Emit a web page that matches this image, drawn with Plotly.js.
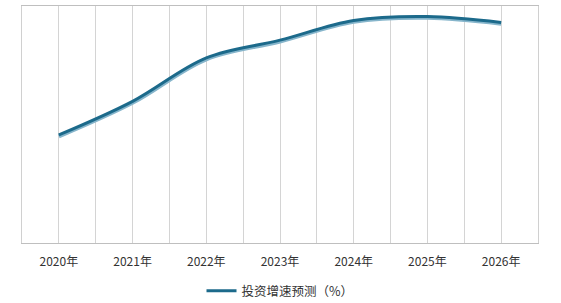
<!DOCTYPE html>
<html>
<head>
<meta charset="utf-8">
<script src="https://cdn.plot.ly/plotly-3.0.1.min.js"></script>
<style>html,body{margin:0;padding:0;background:#fff;}#chart{width:561px;height:303px;}</style>
</head>
<body>
<div id="chart"></div>
<script>
const categories = ["2020年", "2021年", "2022年", "2023年", "2024年", "2025年", "2026年"];
const growthValues = [5.4, 7.1, 9.3, 10.2, 11.2, 11.4, 11.1];
const seriesName = "投资增速预测（%）";

const idx = categories.map((c, i) => i);
const font = "'Noto Sans CJK SC', 'Noto Sans', sans-serif";

const shadow = {
  x: categories, y: growthValues,
  type: "scatter", mode: "lines",
  line: {color: "#86b5cb", width: 4, shape: "spline", smoothing: 1},
  showlegend: false, hoverinfo: "skip"
};
const main = {
  x: idx, y: growthValues, xaxis: "x2", yaxis: "y2",
  type: "scatter", mode: "lines", name: seriesName,
  line: {color: "#1c6a8b", width: 3, shape: "spline", smoothing: 1}
};

const layout = {
  width: 561, height: 303,
  margin: {l: 22, r: 23, t: 6, b: 60, autoexpand: false},
  paper_bgcolor: "#fff", plot_bgcolor: "#fff",
  font: {family: font, size: 12, color: "#333"},
  xaxis: {
    type: "category", range: [-0.5, 6.5],
    showgrid: false, showline: true, linecolor: "#bfbfbf", linewidth: 1, mirror: true,
    ticks: "", tickfont: {family: font, size: 12, color: "#333"}, ticklabelstandoff: 8,
    fixedrange: true
  },
  xaxis2: {
    overlaying: "x", type: "linear", range: [-0.5, 6.5],
    tick0: -0.5, dtick: 0.5, showgrid: true, gridcolor: "#d4d4d4", gridwidth: 1,
    showticklabels: false, ticks: "", zeroline: false, showline: false
  },
  yaxis: {
    range: [0, 12], showgrid: false, zeroline: false, showticklabels: false,
    showline: true, linecolor: "#d0d0d0", mirror: true, ticks: ""
  },
  yaxis2: {
    overlaying: "y", range: [-0.07, 11.93], showgrid: false, zeroline: false,
    showticklabels: false, showline: false, ticks: ""
  },
  showlegend: true,
  legend: {
    orientation: "h", x: 0.5, xanchor: "center", y: -0.203, yanchor: "middle",
    font: {family: font, size: 12.5, color: "#333"},
    itemwidth: 30
  }
};

Plotly.newPlot("chart", [shadow, main], layout, {displayModeBar: false, staticPlot: true});
</script>
</body>
</html>
